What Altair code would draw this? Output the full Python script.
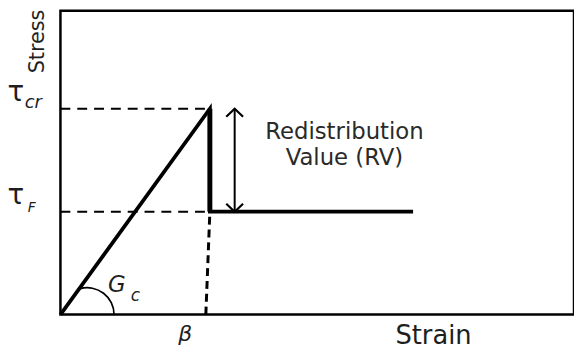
import altair as alt
import pandas as pd

# ---- data (normalised units read from the schematic) ----
strain_path = [0.0, 1.0, 1.0, 2.36]     # elastic rise, drop at beta, plateau
stress_path = [0.0, 2.0, 1.0, 1.0]
tau_cr = 2.0          # critical stress
tau_f = 1.0           # residual stress
beta = 1.0            # strain at drop
beta_foot = 0.973     # foot of the dashed projection line
rv_x = 1.166          # strain where the RV arrow sits
gc_center = 0.179     # centre of the G_c angle arc
x_max = 3.437
y_max = 2.952

FONT = "DejaVu Sans"
INK = "#1e1e1e"

xs = alt.Scale(domain=[0, x_max], nice=False, zero=False)
ys = alt.Scale(domain=[0, y_max], nice=False, zero=False)


def X(f):
    return alt.X(f, type="quantitative", scale=xs, axis=None)


def Y(f):
    return alt.Y(f, type="quantitative", scale=ys, axis=None)


path_df = pd.DataFrame({"strain": strain_path, "stress": stress_path,
                        "order": list(range(len(strain_path)))})
main = alt.Chart(path_df).mark_line(color="black", strokeWidth=3.8, strokeJoin="miter").encode(
    x=X("strain"), y=Y("stress"), order=alt.Order("order:Q"))

drop_df = pd.DataFrame({"strain": [beta], "top": [tau_cr], "bottom": [tau_f]})
drop = alt.Chart(drop_df).mark_rule(color="black", strokeWidth=5).encode(
    x=X("strain"), y=Y("top"), y2="bottom")

lvl_df = pd.DataFrame({"x0": [0.0, 0.0], "x1": [beta, beta], "level": [tau_cr, tau_f]})
levels = alt.Chart(lvl_df).mark_rule(color="black", strokeWidth=2, strokeDash=[10, 7]).encode(
    x=X("x0"), x2="x1", y=Y("level"))

proj_df = pd.DataFrame({"xa": [beta_foot], "xb": [beta], "ya": [0.0], "yb": [tau_f]})
proj = alt.Chart(proj_df).mark_rule(color="black", strokeWidth=3, strokeDash=[8, 5]).encode(
    x=X("xa"), x2="xb", y=Y("ya"), y2="yb")

shaft_df = pd.DataFrame({"x": [rv_x], "top": [tau_cr], "bottom": [tau_f]})
shaft = alt.Chart(shaft_df).mark_rule(color="black", strokeWidth=2).encode(
    x=X("x"), y=Y("top"), y2="bottom")

head_up = alt.Chart(pd.DataFrame({"x": [rv_x], "y": [tau_cr]})).mark_point(
    shape="M -1 0.95 L 0 0 L 1 0.95", size=289, filled=False, color="black",
    strokeWidth=2.2, opacity=1).encode(x=X("x"), y=Y("y"))
head_down = alt.Chart(pd.DataFrame({"x": [rv_x], "y": [tau_f]})).mark_point(
    shape="M -1 -0.95 L 0 0 L 1 -0.95", size=289, filled=False, color="black",
    strokeWidth=2.2, opacity=1).encode(x=X("x"), y=Y("y"))

arc = alt.Chart(pd.DataFrame({"x": [gc_center], "y": [0.0]})).mark_arc(
    color="black", radius=28, radius2=26.3, theta=6.021, theta2=7.854).encode(
    x=X("x"), y=Y("y"))

# ---- labels ----
tau_df = pd.DataFrame({"level": [tau_cr, tau_f], "t": ["τ", "τ"]})
tau_lbl = alt.Chart(tau_df).mark_text(font=FONT, fontSize=28, color=INK, align="center",
                                      baseline="alphabetic", dy=-8).encode(
    x=alt.value(-45), y=Y("level"), text="t:N")

cr_lbl = alt.Chart(pd.DataFrame({"level": [tau_cr], "t": ["cr"]})).mark_text(
    font=FONT, fontSize=18, fontStyle="italic", color=INK, align="left",
    baseline="alphabetic", dy=-1).encode(x=alt.value(-36), y=Y("level"), text="t:N")
f_lbl = alt.Chart(pd.DataFrame({"level": [tau_f], "t": ["F"]})).mark_text(
    font=FONT, fontSize=14, fontStyle="italic", color=INK, align="left",
    baseline="alphabetic", dy=0).encode(x=alt.value(-33), y=Y("level"), text="t:N")

beta_lbl = alt.Chart(pd.DataFrame({"x": [beta], "t": ["β"]})).mark_text(
    font=FONT, fontSize=22, fontStyle="italic", color=INK, align="center",
    baseline="alphabetic", dx=-25).encode(x=X("x"), y=alt.value(334), text="t:N")

g_lbl = alt.Chart(pd.DataFrame({"t": ["G"]})).mark_text(
    font=FONT, fontSize=23, fontStyle="italic", color=INK, align="left",
    baseline="alphabetic").encode(x=alt.value(48), y=alt.value(284), text="t:N")
c_lbl = alt.Chart(pd.DataFrame({"t": ["c"]})).mark_text(
    font=FONT, fontSize=17, fontStyle="italic", color=INK, align="left",
    baseline="alphabetic").encode(x=alt.value(71), y=alt.value(293), text="t:N")

rv_lbl = alt.Chart(pd.DataFrame({"t": ["Redistribution", "Value (RV)"],
                                 "yy": [130, 156]})).mark_text(
    font=FONT, fontSize=23, color="#2a2a2a", align="center", baseline="alphabetic").encode(
    x=alt.value(287), y=alt.Y("yy:Q", scale=None), text="t:N")

strain_lbl = alt.Chart(pd.DataFrame({"t": ["Strain"]})).mark_text(
    font=FONT, fontSize=26, color=INK, align="center", baseline="alphabetic").encode(
    x=alt.value(377), y=alt.value(337), text="t:N")

stress_lbl = alt.Chart(pd.DataFrame({"t": ["Stress"]})).mark_text(
    font=FONT, fontSize=21, color=INK, align="center", baseline="alphabetic", angle=270).encode(
    x=alt.value(-17), y=alt.value(31), text="t:N")

chart = alt.layer(
    levels, proj, main, drop, shaft, head_up, head_down, arc,
    tau_lbl, cr_lbl, f_lbl, beta_lbl, g_lbl, c_lbl, rv_lbl, strain_lbl, stress_lbl,
).properties(
    width=519, height=307, autosize="none",
    padding={"left": 53, "top": 1, "right": 0, "bottom": 36},
).configure_view(stroke="black", strokeWidth=2.5)

chart.save("out.html", embed_options={"renderer": "svg", "actions": False})
